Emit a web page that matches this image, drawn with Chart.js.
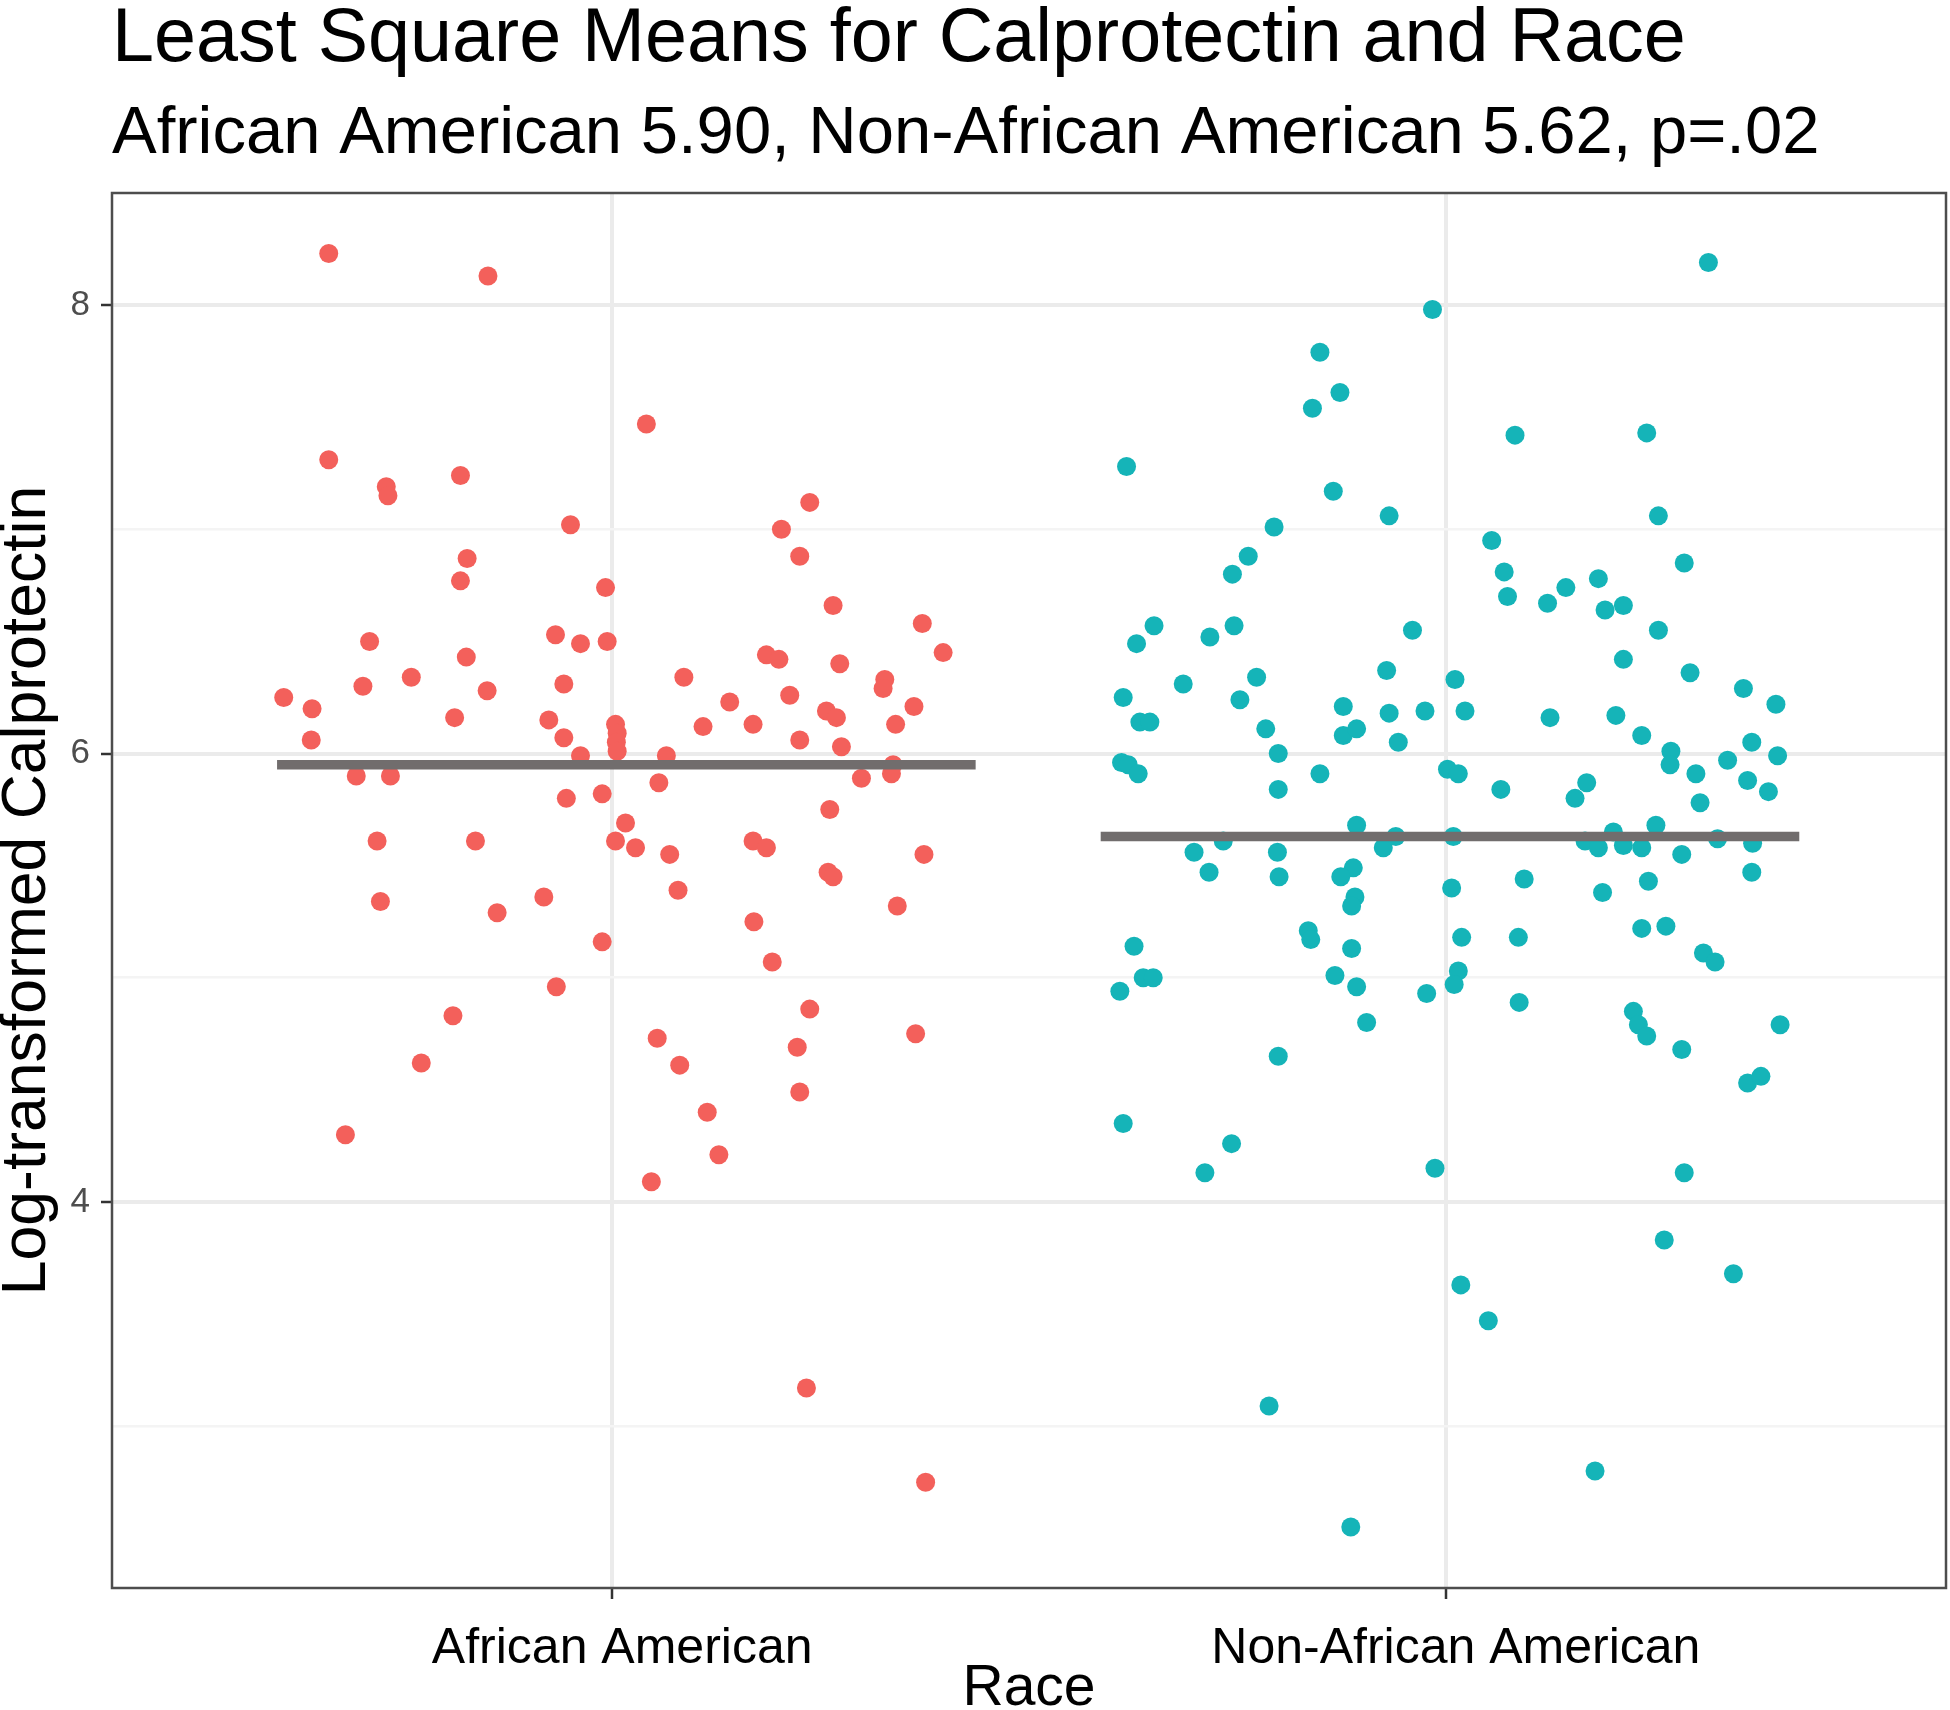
<!DOCTYPE html>
<html>
<head>
<meta charset="utf-8">
<title>Least Square Means for Calprotectin and Race</title>
<script src="https://cdn.jsdelivr.net/npm/chart.js@4.4.1/dist/chart.umd.min.js"></script>
<style>
  html, body { margin: 0; padding: 0; background: #fff; }
</style>
</head>
<body>
<canvas id="canvas" width="1950" height="1710"></canvas>
<script>
const titleText = 'Least Square Means for Calprotectin and Race';
const subtitleText = 'African American 5.90, Non-African American 5.62, p=.02';
const raceLabels = ['African American', 'Non-African American'];
const yGridTicks = [3, 4, 5, 6, 7, 8];
const yLabelTicks = [4, 6, 8];

// jittered x position (category 1 / 2) and log-transformed value
const aaJitter = [0.660, 0.851, 0.660, 0.729, 0.731, 0.818, 0.950, 0.826, 0.818, 0.992,
  0.709, 0.932, 0.962, 0.994, 0.825, 0.759, 0.701, 0.942, 0.850, 0.606,
  0.640, 1.041, 1.237, 1.203, 1.225, 1.265, 1.372, 1.397, 1.185, 1.200,
  1.273, 1.086, 1.327, 1.325, 1.141, 1.213, 0.811, 0.639, 0.924, 0.942,
  0.962, 0.693, 0.734, 0.945, 0.988, 0.718, 0.836, 0.722, 0.862, 0.918,
  0.988, 0.933, 0.809, 0.771, 0.680, 1.004, 1.006, 1.005, 1.006, 1.109,
  1.169, 1.225, 1.257, 1.269, 1.275, 1.362, 1.340, 1.065, 1.056, 1.299,
  1.337, 1.335, 1.261, 1.016, 1.004, 1.028, 1.069, 1.169, 1.185, 1.374,
  1.259, 1.265, 1.079, 1.342, 1.170, 1.192, 1.237, 1.054, 1.364, 1.081,
  1.222, 1.225, 1.114, 1.128, 1.047, 1.233, 1.376];
const aaValue = [8.23, 8.13, 7.31, 7.19, 7.15, 7.24, 7.02, 6.87, 6.77, 6.74,
  6.50, 6.53, 6.49, 6.50, 6.43, 6.34, 6.30, 6.31, 6.28, 6.25,
  6.20, 7.47, 7.12, 7.00, 6.88, 6.66, 6.58, 6.45, 6.44, 6.42,
  6.40, 6.34, 6.33, 6.29, 6.23, 6.26, 6.16, 6.06, 6.15, 6.07,
  5.99, 5.90, 5.90, 5.80, 5.82, 5.61, 5.61, 5.34, 5.29, 5.36,
  5.16, 4.96, 4.83, 4.62, 4.30, 6.13, 6.09, 6.05, 6.01, 6.12,
  6.13, 6.06, 6.19, 6.16, 6.03, 6.21, 6.13, 5.99, 5.87, 5.89,
  5.95, 5.91, 5.75, 5.69, 5.61, 5.58, 5.55, 5.61, 5.58, 5.55,
  5.47, 5.45, 5.39, 5.32, 5.25, 5.07, 4.86, 4.73, 4.75, 4.61,
  4.69, 4.49, 4.40, 4.21, 4.09, 3.17, 2.75];

const naaJitter = [1.984, 1.849, 1.873, 1.840, 1.617, 1.865, 1.932, 1.794, 1.763, 1.744,
  1.650, 1.629, 1.717, 1.746, 1.960, 1.929, 1.685, 1.773, 1.613, 1.753,
  1.877, 1.932, 1.975, 1.633, 1.645, 1.784, 1.877, 1.893, 1.943, 1.611,
  1.619, 1.631, 1.799, 1.849, 1.799, 1.893, 1.733, 1.698, 1.716, 1.798,
  1.800, 1.925, 1.940, 1.889, 1.874, 1.891, 1.887, 1.835, 1.838, 1.626,
  1.887, 1.637, 1.649, 1.609, 1.867, 1.893, 1.977, 1.905, 1.799, 1.613,
  2.315, 2.083, 2.241, 2.255, 2.055, 2.070, 2.074, 2.122, 2.144, 2.183,
  2.191, 2.213, 2.286, 2.255, 2.213, 2.293, 2.011, 2.357, 2.396, 2.023,
  2.125, 2.204, 2.235, 2.367, 2.398, 2.270, 2.269, 2.338, 2.300, 2.362,
  2.387, 2.305, 2.002, 2.015, 2.066, 2.169, 2.155, 2.252, 2.009, 2.167,
  2.183, 2.201, 2.213, 2.235, 2.283, 2.326, 2.368, 2.367, 2.007, 2.094,
  2.188, 2.243, 2.019, 2.087, 2.235, 2.264, 2.309, 2.323, 2.015, 2.010,
  2.088, 2.225, 2.231, 2.241, 2.401, 2.283, 2.362, 2.378, 1.743, 1.711,
  1.987, 2.286, 2.262, 2.345, 2.018, 2.051, 1.788, 2.179, 1.886];
const naaValue = [7.98, 7.79, 7.61, 7.54, 7.28, 7.17, 7.06, 7.01, 6.88, 6.80,
  6.57, 6.49, 6.52, 6.57, 6.55, 6.37, 6.31, 6.34, 6.25, 6.24,
  6.21, 6.18, 6.19, 6.14, 6.14, 6.11, 6.08, 6.11, 6.05, 5.96,
  5.95, 5.91, 6.00, 5.91, 5.84, 5.68, 5.61, 5.56, 5.47, 5.56,
  5.45, 5.58, 5.63, 5.49, 5.45, 5.36, 5.32, 5.21, 5.17, 5.14,
  5.13, 5.00, 5.00, 4.94, 5.01, 4.96, 4.93, 4.80, 4.65, 4.35,
  8.19, 7.42, 7.43, 7.06, 6.95, 6.81, 6.70, 6.67, 6.74, 6.78,
  6.64, 6.66, 6.85, 6.55, 6.42, 6.36, 6.33, 6.29, 6.22, 6.19,
  6.16, 6.17, 6.08, 6.05, 5.99, 6.01, 5.95, 5.97, 5.91, 5.88,
  5.83, 5.78, 5.93, 5.91, 5.84, 5.87, 5.80, 5.68, 5.63, 5.61,
  5.58, 5.65, 5.59, 5.58, 5.55, 5.62, 5.60, 5.47, 5.40, 5.44,
  5.38, 5.43, 5.18, 5.18, 5.22, 5.23, 5.11, 5.07, 5.03, 4.97,
  4.89, 4.85, 4.79, 4.74, 4.79, 4.68, 4.53, 4.56, 4.26, 4.13,
  4.15, 4.13, 3.83, 3.68, 3.63, 3.47, 3.09, 2.80, 2.55];

// least square means and the x span of their bars
const lsMeans = [5.95, 5.63];
const meanSpanX = [[0.598, 1.436], [1.586, 2.424]];

const FONT = '"Liberation Sans", Arial, Helvetica, sans-serif';
const RED = '#F3605B';
const TEAL = '#15B4B8';
const MEAN_GREY = '#716D6D';

const toPoints = (xs, ys) => xs.map((x, i) => ({ x, y: ys[i] }));
const meanLine = (i) => meanSpanX[i].map(x => ({ x, y: lsMeans[i] }));
const isMajor = (v) => yLabelTicks.includes(v);

const framePlugin = {
    id: 'frame',
    afterDraw(chart) {
        const { ctx, chartArea: a } = chart;
        ctx.save();
        ctx.strokeStyle = '#4d4d4d';
        ctx.lineWidth = 2.5;
        ctx.strokeRect(a.left, a.top, a.right - a.left, a.bottom - a.top);

        ctx.fillStyle = '#000';
        ctx.textAlign = 'left';
        ctx.textBaseline = 'alphabetic';
        ctx.font = `75.5px ${FONT}`;
        ctx.fillText(titleText, a.left, 61);
        ctx.font = `67px ${FONT}`;
        ctx.fillText(subtitleText, a.left, 153);
        ctx.restore();
    }
};

const chart = new Chart(document.getElementById('canvas'), {
    type: 'scatter',
    data: {
        datasets: [
            {
                type: 'line',
                label: 'LS mean AA',
                data: meanLine(0),
                borderColor: MEAN_GREY,
                borderWidth: 9.5,
                borderCapStyle: 'butt',
                pointRadius: 0,
                order: 0,
            },
            {
                type: 'line',
                label: 'LS mean NAA',
                data: meanLine(1),
                borderColor: MEAN_GREY,
                borderWidth: 9.5,
                borderCapStyle: 'butt',
                pointRadius: 0,
                order: 0,
            },
            {
                label: raceLabels[0],
                data: toPoints(aaJitter, aaValue),
                backgroundColor: RED,
                borderWidth: 0,
                pointRadius: 9.5,
                pointHoverRadius: 9.5,
                order: 1,
            },
            {
                label: raceLabels[1],
                data: toPoints(naaJitter, naaValue),
                backgroundColor: TEAL,
                borderWidth: 0,
                pointRadius: 9.5,
                pointHoverRadius: 9.5,
                order: 1,
            },
        ],
    },
    plugins: [framePlugin],
    options: {
        responsive: false,
        animation: false,
        events: [],
        layout: {
            autoPadding: false,
            padding: { top: 193, left: 0, right: 4, bottom: 0 },
        },
        plugins: {
            legend: { display: false },
            tooltip: { enabled: false },
            title: { display: false },
        },
        scales: {
            x: {
                type: 'linear',
                min: 0.4,
                max: 2.6,
                afterBuildTicks: (scale) => {
                    scale.ticks = raceLabels.map((_, i) => ({ value: i + 1 }));
                },
                afterFit: (scale) => { scale.height = 122; },
                ticks: {
                    autoSkip: false,
                    maxRotation: 0,
                    padding: 20,
                    labelOffset: 10,
                    color: '#000',
                    font: { family: FONT, size: 50 },
                    callback: (v) => raceLabels[v - 1],
                },
                grid: {
                    color: '#EBEBEB',
                    lineWidth: 4,
                    tickColor: '#333',
                    tickWidth: 2.5,
                    tickLength: 11,
                },
                border: { display: false },
                title: {
                    display: true,
                    text: 'Race',
                    color: '#000',
                    font: { family: FONT, size: 57, lineHeight: 0.74 },
                    padding: 0,
                },
            },
            y: {
                type: 'linear',
                min: 2.278,
                max: 8.5,
                afterBuildTicks: (scale) => {
                    scale.ticks = yGridTicks.map(v => ({ value: v }));
                },
                afterFit: (scale) => { scale.width = 112; },
                ticks: {
                    padding: 11,
                    color: '#4D4D4D',
                    font: { family: FONT, size: 35 },
                    callback: (v) => (isMajor(v) ? String(v) : ''),
                },
                grid: {
                    color: (ctx) => (isMajor(ctx.tick.value) ? '#EBEBEB' : '#F4F4F4'),
                    lineWidth: (ctx) => (isMajor(ctx.tick.value) ? 4 : 2.5),
                    tickColor: (ctx) => (isMajor(ctx.tick.value) ? '#333' : 'rgba(0,0,0,0)'),
                    tickWidth: 2.5,
                    tickLength: 11,
                },
                border: { display: false },
                title: {
                    display: true,
                    text: 'Log-transformed Calprotectin',
                    color: '#000',
                    font: { family: FONT, size: 62.5, lineHeight: 0.9 },
                    padding: 0,
                },
            },
        },
    },
});
</script>
</body>
</html>
